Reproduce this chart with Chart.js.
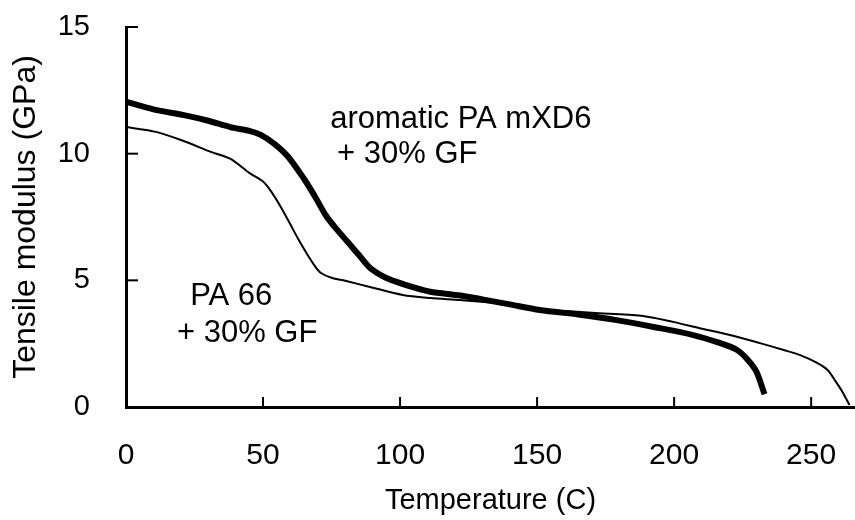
<!DOCTYPE html>
<html>
  <head>
    <meta charset="UTF-8" />
    <title>Tensile modulus vs temperature</title>
    <style>
      body {
        margin: 0;
        padding: 0;
        background-color: #fff;
      }
      .chart-container {
        width: 855px;
        height: 520px;
        position: relative;
      }
    </style>
  </head>
  <body>
    <div class="chart-container">
      <canvas id="modulusChart"></canvas>
    </div>

    <script src="https://cdn.jsdelivr.net/npm/chart.js"></script>
    <script>
      // aromatic PA mXD6 + 30% GF (thick curve)
      const mxd6Temp = [0, 10, 22, 30, 38, 45, 49, 54, 59, 65, 69, 73, 77, 81, 85, 89, 94, 99, 105, 111, 122, 130, 140, 151, 165, 179, 193, 207, 216, 223, 227, 230, 233];
      const mxd6Modulus = [12.05, 11.75, 11.5, 11.3, 11.05, 10.9, 10.75, 10.4, 9.9, 9.0, 8.3, 7.55, 7.0, 6.5, 6.0, 5.5, 5.15, 4.93, 4.72, 4.55, 4.4, 4.25, 4.05, 3.83, 3.65, 3.43, 3.15, 2.84, 2.55, 2.25, 1.85, 1.4, 0.5];

      // PA 66 + 30% GF (thin curve)
      const pa66Temp = [0, 11, 21, 31, 38, 45, 50, 53, 57, 60, 63, 66, 69, 71, 75, 80, 89, 101, 111, 122, 135, 150, 170, 188, 200, 209, 220, 231, 240, 246, 252, 256, 259, 261, 264];
      const pa66Modulus = [11.05, 10.86, 10.5, 10.07, 9.8, 9.24, 8.9, 8.5, 7.8, 7.2, 6.6, 6.05, 5.55, 5.3, 5.1, 4.98, 4.74, 4.42, 4.3, 4.22, 4.1, 3.88, 3.72, 3.6, 3.35, 3.12, 2.85, 2.53, 2.25, 2.05, 1.75, 1.46, 1.0, 0.67, 0.08];

      // curve labels: text, temperature and modulus of the left end of the baseline
      const labelTexts = ["aromatic PA mXD6", "+ 30% GF", "PA 66", "+ 30% GF"];
      const labelTemp = [74.5, 77, 23.4, 18.6];
      const labelModulus = [11.0, 9.63, 4.03, 2.57];

      const fontFamily = "'Liberation Sans', Arial, Helvetica, sans-serif";

      function toPoints(xs, ys) {
        return xs.map((x, i) => ({ x: x, y: ys[i] }));
      }

      // ticks drawn inward from the axis lines, plus the curve labels
      const extrasPlugin = {
        id: "extras",
        afterDraw(chart) {
          const ctx = chart.ctx;
          const xs = chart.scales.x;
          const ys = chart.scales.y;
          const area = chart.chartArea;
          ctx.save();
          ctx.strokeStyle = "#000";
          ctx.lineWidth = 2;
          ys.ticks.forEach((t) => {
            const py = ys.getPixelForValue(t.value);
            ctx.beginPath();
            ctx.moveTo(area.left, py);
            ctx.lineTo(area.left + 12, py);
            ctx.stroke();
          });
          xs.ticks.forEach((t) => {
            const px = xs.getPixelForValue(t.value);
            ctx.beginPath();
            ctx.moveTo(px, area.bottom);
            ctx.lineTo(px, area.bottom - 10);
            ctx.stroke();
          });
          ctx.fillStyle = "#000";
          ctx.font = "31px " + fontFamily;
          ctx.textAlign = "left";
          ctx.textBaseline = "alphabetic";
          labelTexts.forEach((txt, i) => {
            ctx.fillText(txt, xs.getPixelForValue(labelTemp[i]), ys.getPixelForValue(labelModulus[i]));
          });
          ctx.restore();
        },
      };

      new Chart(document.getElementById("modulusChart"), {
        type: "line",
        data: {
          datasets: [
            {
              label: "aromatic PA mXD6 + 30% GF",
              data: toPoints(mxd6Temp, mxd6Modulus),
              borderColor: "#000",
              borderWidth: 6,
              pointRadius: 0,
              tension: 0.3,
              fill: false,
            },
            {
              label: "PA 66 + 30% GF",
              data: toPoints(pa66Temp, pa66Modulus),
              borderColor: "#000",
              borderWidth: 2,
              pointRadius: 0,
              tension: 0.3,
              fill: false,
            },
          ],
        },
        options: {
          responsive: true,
          maintainAspectRatio: false,
          animation: false,
          layout: { padding: { top: 27, right: 0, left: 0, bottom: 0 } },
          plugins: {
            legend: { display: false },
            tooltip: { enabled: false },
          },
          scales: {
            x: {
              type: "linear",
              min: 0,
              max: 266,
              afterFit(scale) {
                scale.height = 113;
                scale.paddingLeft = 0;
                scale.paddingRight = 0;
              },
              afterBuildTicks(scale) {
                scale.ticks = [0, 50, 100, 150, 200, 250].map((v) => ({ value: v }));
              },
              grid: { display: false },
              border: { display: true, color: "#000", width: 3 },
              ticks: {
                color: "#000",
                padding: 23,
                maxRotation: 0,
                font: { family: fontFamily, size: 30 },
              },
              title: {
                display: true,
                text: "Temperature (C)",
                color: "#000",
                font: { family: fontFamily, size: 29 },
                padding: { top: 0, bottom: 2 },
              },
            },
            y: {
              min: 0,
              max: 15,
              afterFit(scale) {
                scale.width = 126;
                scale.paddingTop = 0;
                scale.paddingBottom = 0;
              },
              grid: { display: false },
              border: { display: true, color: "#000", width: 3 },
              ticks: {
                stepSize: 5,
                color: "#000",
                padding: 28,
                font: { family: fontFamily, size: 29 },
              },
              title: {
                display: true,
                text: "Tensile modulus (GPa)",
                color: "#000",
                font: { family: fontFamily, size: 32 },
                padding: { top: 7, bottom: 0 },
              },
            },
          },
        },
        plugins: [extrasPlugin],
      });
    </script>
  </body>
</html>
